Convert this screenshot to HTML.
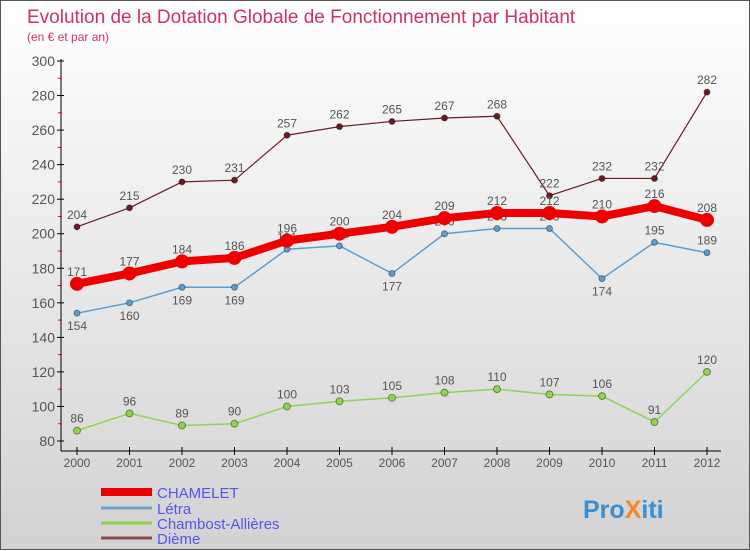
<!DOCTYPE html>
<html><head><meta charset="utf-8"><style>
body{margin:0}
#c{width:750px;height:550px;position:relative;background:linear-gradient(#ffffff,#d2d2d2);font-family:"Liberation Sans",sans-serif;box-sizing:border-box;border:1px solid #555}
</style></head><body>
<div id="c">
<svg width="750" height="550" id="s" style="position:absolute;left:0;top:0"></svg>
</div>
<script>
const years=["2000","2001","2002","2003","2004","2005","2006","2007","2008","2009","2010","2011","2012"];
const chamelet=[171,177,184,186,196,200,204,209,212,212,210,216,208];
const letra=[154,160,169,169,191,193,177,200,203,203,174,195,189];
const chambost=[86,96,89,90,100,103,105,108,110,107,106,91,120];
const dieme=[204,215,230,231,257,262,265,267,268,222,232,232,282];
const yTicks=[80,100,120,140,160,180,200,220,240,260,280,300];
const letraBelow=[true,true,true,true,false,false,true,false,false,false,true,false,false];
const X=i=>76+i*52.5, Y=v=>440-(v-80)*380/220;
const s=document.getElementById('s');const NS="http://www.w3.org/2000/svg";
function el(t,a,txt){const e=document.createElementNS(NS,t);for(const k in a)e.setAttribute(k,a[k]);if(txt!==undefined)e.textContent=txt;s.appendChild(e);return e;}
let e;
e=el('text',{x:26,y:22,'font-size':19,fill:'#d0306a'},'Evolution de la Dotation Globale de Fonctionnement par Habitant');

e=el('text',{x:26,y:40,'font-size':12,fill:'#d0306a'},'(en € et par an)');

e=el('line',{x1:60,y1:58,x2:60,y2:450,stroke:'#000'});

e=el('line',{x1:60,y1:450,x2:720,y2:450,stroke:'#000'});

yTicks.forEach((v,i)=>{
 e=el('line',{x1:56,y1:Y(v),x2:63,y2:Y(v),stroke:'#000'});
 
 if(i>0){e=el('line',{x1:57,y1:Y(v-10),x2:61,y2:Y(v-10),stroke:'#e00'});
 }
 e=el('text',{x:54,y:Y(v)+5,'font-size':14,fill:'#555','text-anchor':'end'},v);
 
});
years.forEach((y,i)=>{
 e=el('line',{x1:X(i),y1:446,x2:X(i),y2:454,stroke:'#000'});
 
 e=el('text',{x:X(i),y:466,'font-size':12,fill:'#555','text-anchor':'middle'},y);
 
});
function series(d,color,w,r,name,below){
 e=el('polyline',{points:d.map((v,i)=>X(i)+','+Y(v)).join(' '),fill:'none',stroke:color,'stroke-width':w,'stroke-linejoin':'round'});
 
 d.forEach((v,i)=>{
  e=el('circle',{cx:X(i),cy:Y(v),r:r,fill:color,stroke:'rgba(0,0,0,0.4)','stroke-width':r>4?0:1});
  
  const b=below&&below[i];
  e=el('text',{x:X(i),y:b?Y(v)+17:Y(v)-8,'font-size':12,fill:'#555','text-anchor':'middle'},v);
  
 });
}
series(dieme,'#6b1a22',1.2,3,'dieme');
series(chambost,'#8fd44f',1.5,3.5,'chambost');
series(letra,'#5a9fd4',1.5,3,'letra',letraBelow);
series(chamelet,'#ee0000',8,7,'chamelet');
const leg=[['CHAMELET','#ee0000',8,491],['Létra','#6fa0c8',3,507],['Chambost-Allières','#8fd44f',3,522],['Dième','#8a4a4a',3,537]];
leg.forEach(l=>{
 e=el('line',{x1:100,y1:l[3],x2:151,y2:l[3],stroke:l[1],'stroke-width':l[2]});
 
 e=el('text',{x:156,y:l[3]+6,'font-size':15,fill:'#5555ee'},l[0]);
 
});
const logo=el('text',{x:582,y:517,'font-size':25,'font-weight':'bold'});


[['Pro','#3a8fd0'],['X','#f08a1c'],['iti','#3a8fd0']].forEach(p=>{const t=document.createElementNS(NS,'tspan');t.setAttribute('fill',p[1]);t.textContent=p[0];logo.appendChild(t);});
</script>
</body></html>
